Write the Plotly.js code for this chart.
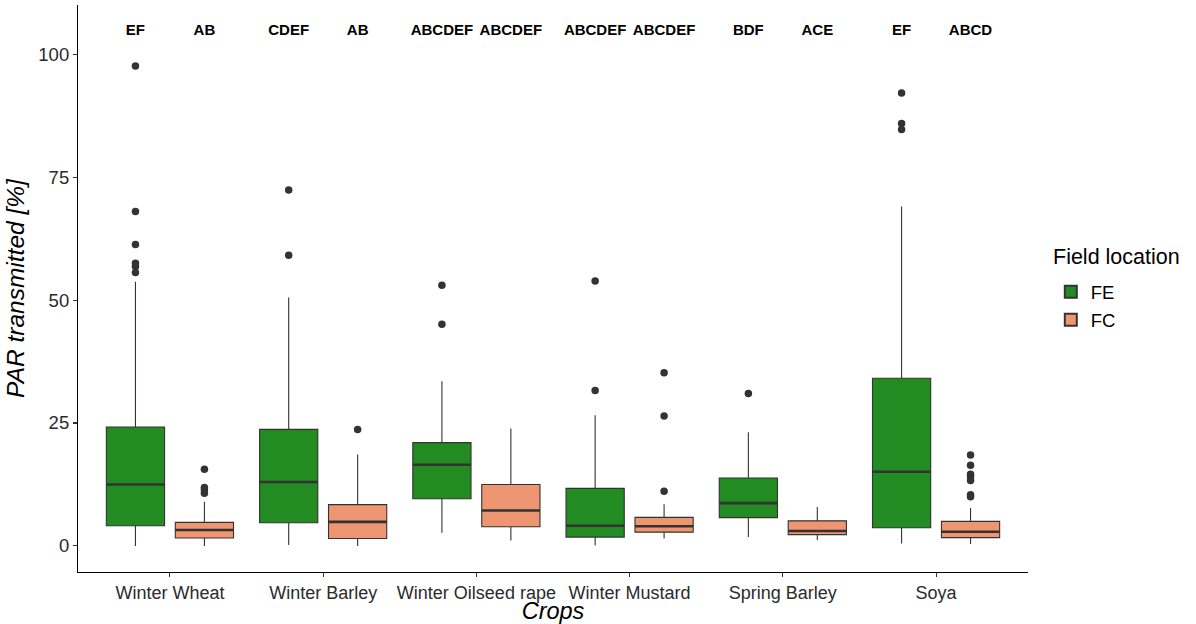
<!DOCTYPE html>
<html>
<head>
<meta charset="utf-8">
<script src="https://cdn.plot.ly/plotly-3.0.1.min.js"></script>
<style>html,body{margin:0;padding:0;background:#fff;}#chart{width:1196px;height:624px;}</style>
</head>
<body>
<div id="chart"></div>
<script>
// ---- data ----
const crops = ["Winter Wheat", "Winter Barley", "Winter Oilseed rape", "Winter Mustard", "Spring Barley", "Soya"];
const groups = ["FE", "FC"];

const feLower  = [0.0, 0.2, 2.7, 0.1, 1.8, 0.5];
const feQ1     = [4.1, 4.7, 9.6, 1.8, 5.75, 3.7];
const feMedian = [12.5, 13.0, 16.5, 4.1, 8.7, 15.1];
const feQ3     = [24.2, 23.7, 21.0, 11.7, 13.8, 34.1];
const feUpper  = [53.7, 50.5, 33.5, 26.6, 23.1, 69.0];
const feOutliers = [[97.6, 68.0, 61.3, 57.5, 56.8, 55.6], [72.4, 59.1], [53.0, 45.1], [53.9, 31.6], [31.0], [92.1, 85.9, 84.7]];

const fcLower  = [0.0, 0.0, 1.1, 1.5, 1.2, 0.4];
const fcQ1     = [1.6, 1.5, 3.9, 2.8, 2.3, 1.7];
const fcMedian = [3.25, 4.9, 7.2, 4.0, 3.05, 2.9];
const fcQ3     = [4.8, 8.4, 12.5, 5.8, 5.1, 5.0];
const fcUpper  = [9.0, 18.6, 23.9, 8.5, 7.9, 7.7];
const fcOutliers = [[15.6, 11.9, 11.4, 10.7], [23.7], [], [35.2, 26.4, 11.1], [], [18.5, 16.4, 14.6, 14.0, 13.3, 10.4, 10.0]];

const feLetters = ["EF", "CDEF", "ABCDEF", "ABCDEF", "BDF", "EF"];
const fcLetters = ["AB", "AB", "ABCDEF", "ABCDEF", "ACE", "ABCD"];
const letterY = 104.6;

// ---- styling ----
const colors = {FE: "#228B22", FC: "#EE9572"};
const offset = 0.225, boxW = 0.38;
const edge = "#333333";

const series = {
  FE: {lo: feLower, q1: feQ1, med: feMedian, q3: feQ3, hi: feUpper, out: feOutliers, letters: feLetters, sign: -1},
  FC: {lo: fcLower, q1: fcQ1, med: fcMedian, q3: fcQ3, hi: fcUpper, out: fcOutliers, letters: fcLetters, sign: 1}
};

const traces = [];
const medTraces = [], outTraces = [], textTraces = [];
groups.forEach(g => {
  const s = series[g];
  const xs = crops.map((c, i) => i + s.sign * offset);
  traces.push({
    type: "box", name: g, legendgroup: g, x: xs,
    q1: s.q1, median: s.med, q3: s.q3, lowerfence: s.lo, upperfence: s.hi,
    width: boxW, whiskerwidth: 0,
    fillcolor: colors[g], line: {color: edge, width: 1.1},
    marker: {color: edge}, boxpoints: false, hoverinfo: "skip"
  });
  // thicker median line
  const mx = [], my = [];
  xs.forEach((x, i) => { mx.push(x - boxW / 2, x + boxW / 2, null); my.push(s.med[i], s.med[i], null); });
  medTraces.push({type: "scatter", mode: "lines", x: mx, y: my, line: {color: edge, width: 2.6}, showlegend: false, hoverinfo: "skip"});
  // outliers
  const ox = [], oy = [];
  s.out.forEach((arr, i) => arr.forEach(v => { ox.push(xs[i]); oy.push(v); }));
  outTraces.push({type: "scatter", mode: "markers", x: ox, y: oy, marker: {color: edge, size: 7.5}, showlegend: false, hoverinfo: "skip"});
  // letters
  textTraces.push({type: "scatter", mode: "text", x: xs, y: xs.map(() => letterY), text: s.letters.map(t => "<b>" + t + "</b>"),
    textfont: {family: "Liberation Sans, Arial, sans-serif", size: 15, color: "#000"}, showlegend: false, hoverinfo: "skip", cliponaxis: false});
});

const data = traces.concat(medTraces, outTraces, textTraces);

const layout = {
  width: 1196, height: 624,
  margin: {l: 78, r: 168, t: 5, b: 52},
  paper_bgcolor: "#fff", plot_bgcolor: "#fff",
  font: {family: "Liberation Sans, Arial, sans-serif", color: "#000"},
  boxmode: "overlay",
  showlegend: true,
  xaxis: {
    range: [-0.6, 5.6], tickvals: crops.map((c, i) => i), ticktext: crops,
    showgrid: false, zeroline: false, showline: true, linecolor: "#000", linewidth: 1.1,
    ticks: "outside", ticklen: 4, tickcolor: "#333", tickwidth: 1.1,
    tickfont: {size: 18, color: "#2b2b2b"},
    title: {text: "<i>Crops</i>", font: {size: 23.5, color: "#000"}, standoff: 2}
  },
  yaxis: {
    range: [-5.3, 110], tickvals: [0, 25, 50, 75, 100],
    showgrid: false, zeroline: false, showline: true, linecolor: "#000", linewidth: 1.1,
    ticks: "outside", ticklen: 4, tickcolor: "#333", tickwidth: 1.1,
    tickfont: {size: 18.5, color: "#2b2b2b"},
    title: {text: "<i>PAR transmitted [%]</i>", font: {size: 24.5, color: "#000"}, standoff: 6}
  },
  annotations: [{
    text: "Field location", xref: "paper", yref: "paper", x: 1.0245, y: 0.5556,
    xanchor: "left", yanchor: "middle", showarrow: false,
    font: {size: 21.5, color: "#000"}
  }],
  legend: {
    x: 1.024, y: 0.527, xanchor: "left", yanchor: "top",
    font: {size: 18.5, color: "#000"}, bgcolor: "rgba(0,0,0,0)",
    tracegroupgap: 1, itemsizing: "constant"
  }
};

Plotly.newPlot("chart", data, layout, {displayModeBar: false, staticPlot: true});
</script>
</body>
</html>
